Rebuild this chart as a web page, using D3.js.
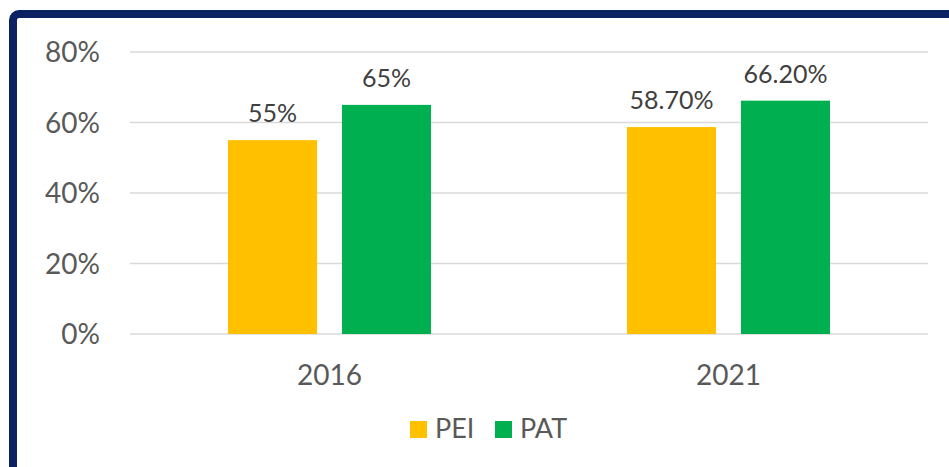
<!DOCTYPE html>
<html><head><meta charset="utf-8">
<script src="https://cdn.jsdelivr.net/npm/d3@7"></script>
<style>body{margin:0;background:#fff}svg{display:block}</style>
</head><body>
<svg id="c" width="949" height="467"></svg>
<script>
const categories = ["2016", "2021"];
const seriesNames = ["PEI", "PAT"];
const peiValues = [0.55, 0.587];
const patValues = [0.65, 0.662];
const peiLabels = ["55%", "58.70%"];
const patLabels = ["65%", "66.20%"];
const yTicks = [0, 0.2, 0.4, 0.6, 0.8];
const colors = ["#FFC000", "#00B050"];

(function () {
const svg = d3.select("#c");
const font = "Lato, 'Open Sans', sans-serif";

// frame
svg.append("rect").attr("x", 13).attr("y", 14).attr("width", 1000).attr("height", 600)
  .attr("rx", 6).attr("fill", "none").attr("stroke", "#0B2161").attr("stroke-width", 8);

const pl = 130, pr = 928, pt = 52, pb = 334;
const x = d3.scaleBand().domain(categories).range([pl, pr]);
const y = d3.scaleLinear().domain([0, 0.8]).range([pb, pt]);
const inner = d3.scaleBand().domain(seriesNames).range([0, 203]).paddingInner(0.219);

// gridlines
svg.append("g").selectAll("line").data(yTicks).join("line")
  .attr("x1", pl).attr("x2", pr)
  .attr("y1", d => y(d)).attr("y2", d => y(d))
  .attr("stroke", "#D9D9D9").attr("stroke-width", 1.5);

// y axis labels
const yAxis = d3.axisLeft(y).tickValues(yTicks).tickFormat(d3.format(".0%")).tickSize(0).tickPadding(0);
const ya = svg.append("g").attr("transform", `translate(${pl - 30},0)`).call(yAxis);
ya.select(".domain").remove();
ya.selectAll("text").attr("font-family", font).attr("font-size", 28).attr("fill", "#595959").attr("dy", "0.35em");

// bars
const data = categories.map((c, i) => ({ c, vals: [
  { s: "PEI", v: peiValues[i], l: peiLabels[i] },
  { s: "PAT", v: patValues[i], l: patLabels[i] }] }));
const g = svg.append("g").selectAll("g").data(data).join("g")
  .attr("transform", d => `translate(${x(d.c) + x.bandwidth() / 2 - 101.5},0)`);
g.selectAll("rect").data(d => d.vals).join("rect")
  .attr("x", d => inner(d.s)).attr("width", inner.bandwidth())
  .attr("y", d => y(d.v)).attr("height", d => y(0) - y(d.v))
  .attr("fill", (d, i) => colors[i]);
g.selectAll("text").data(d => d.vals).join("text")
  .attr("x", d => inner(d.s) + inner.bandwidth() / 2)
  .attr("y", d => y(d.v) - 18)
  .attr("text-anchor", "middle").attr("font-family", font).attr("font-size", 25)
  .attr("fill", "#404040").text(d => d.l);

// x axis labels
const xAxis = d3.axisBottom(x).tickSize(0).tickPadding(0);
const xa = svg.append("g").attr("transform", `translate(0,${pb})`).call(xAxis);
xa.select(".domain").remove();
xa.selectAll("text").attr("font-family", font).attr("font-size", 28).attr("fill", "#595959")
  .attr("dy", 0).attr("y", 51);

// legend
const legX = [410, 495];
const lg = svg.append("g").selectAll("g").data(seriesNames).join("g")
  .attr("transform", (d, i) => `translate(${legX[i]},421)`);
lg.append("rect").attr("width", 17).attr("height", 17).attr("fill", (d, i) => colors[i]);
lg.append("text").attr("x", 25).attr("y", 17).attr("font-family", font).attr("font-size", 27)
  .attr("fill", "#595959").text(d => d);
})();
</script>
</body></html>
